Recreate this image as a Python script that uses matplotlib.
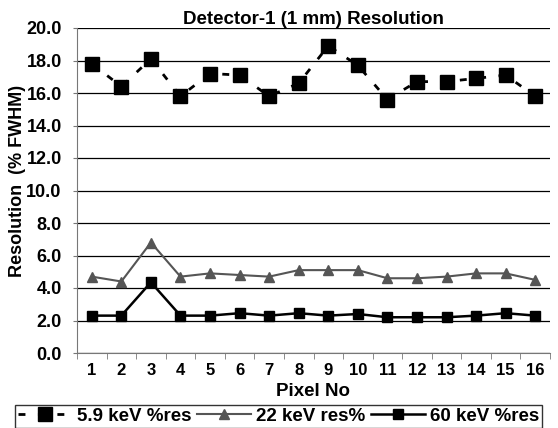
import numpy as np
import matplotlib
matplotlib.use("Agg")
import matplotlib.pyplot as plt
from matplotlib.ticker import MultipleLocator, FixedLocator

plt.rcParams['font.family'] = ['Liberation Sans', 'DejaVu Sans']
plt.rcParams['font.weight'] = 'bold'

# data
pixels = np.arange(1, 17)
res_5_9 = [17.8, 16.4, 18.1, 15.8, 17.2, 17.1, 15.8, 16.6, 18.9, 17.7, 15.6, 16.7, 16.7, 16.9, 17.1, 15.8]
res_22 = [4.7, 4.4, 6.8, 4.7, 4.9, 4.8, 4.7, 5.1, 5.1, 5.1, 4.6, 4.6, 4.7, 4.9, 4.9, 4.5]
res_60 = [2.3, 2.3, 4.35, 2.3, 2.3, 2.45, 2.3, 2.45, 2.3, 2.4, 2.2, 2.2, 2.2, 2.3, 2.45, 2.3]
labels = ['5.9 keV %res', '22 keV res%', '60 keV %res']

fig = plt.figure(figsize=(5.58, 4.28), dpi=100)
ax = fig.add_axes([77 / 558, 1 - 353 / 428, (550 - 77) / 558, (353 - 28) / 428])

ax.plot(pixels, res_5_9, color='black', ls=(0, (2.5, 4.5)), lw=2,
        marker='s', ms=9.5, mfc='black', mec='black', label=labels[0], zorder=4)
ax.plot(pixels, res_22, color='#555555', lw=1.5,
        marker='^', ms=7, mfc='#555555', mec='#555555', label=labels[1], zorder=3)
ax.plot(pixels, res_60, color='black', lw=1.8,
        marker='s', ms=6.5, mfc='black', mec='black', label=labels[2], zorder=3)

ax.set_xlim(0.5, 16.5)
ax.set_ylim(0, 20)
ax.yaxis.set_major_locator(MultipleLocator(2))
ax.yaxis.set_major_formatter(matplotlib.ticker.FormatStrFormatter('%.1f'))
ax.grid(axis='y', color='black', lw=0.9)
ax.set_axisbelow(True)

ax.set_xticks(pixels)
ax.xaxis.set_minor_locator(FixedLocator(np.arange(0.5, 17, 1)))
ax.tick_params(axis='x', which='major', length=0, labelsize=12, pad=7)
ax.tick_params(axis='x', which='minor', length=4, color='#777777', direction='out')
ax.tick_params(axis='y', length=3, color='#777777', labelsize=13, pad=8)

for s in ['top', 'right']:
    ax.spines[s].set_visible(False)
for s in ['left', 'bottom']:
    ax.spines[s].set_color('#777777')

ax.set_title('Detector-1 (1 mm) Resolution', fontsize=13.5, fontweight='bold', pad=0)
ax.set_xlabel('Pixel No', fontsize=13.5, fontweight='bold', labelpad=4)
ax.set_ylabel('Resolution  (% FWHM)', fontsize=13, fontweight='bold')
ax.yaxis.set_label_coords(-0.108, 0.53)

leg = fig.legend(loc='upper left', bbox_to_anchor=(15 / 558, 1 - 405 / 428), ncol=3,
                 frameon=True, fancybox=False, edgecolor='black', fontsize=13.5,
                 handlelength=2.9, columnspacing=0.3, handletextpad=0.25,
                 borderpad=0.15, borderaxespad=0)
leg.get_frame().set_linewidth(1.0)

fig.savefig('out.png', dpi=100)
